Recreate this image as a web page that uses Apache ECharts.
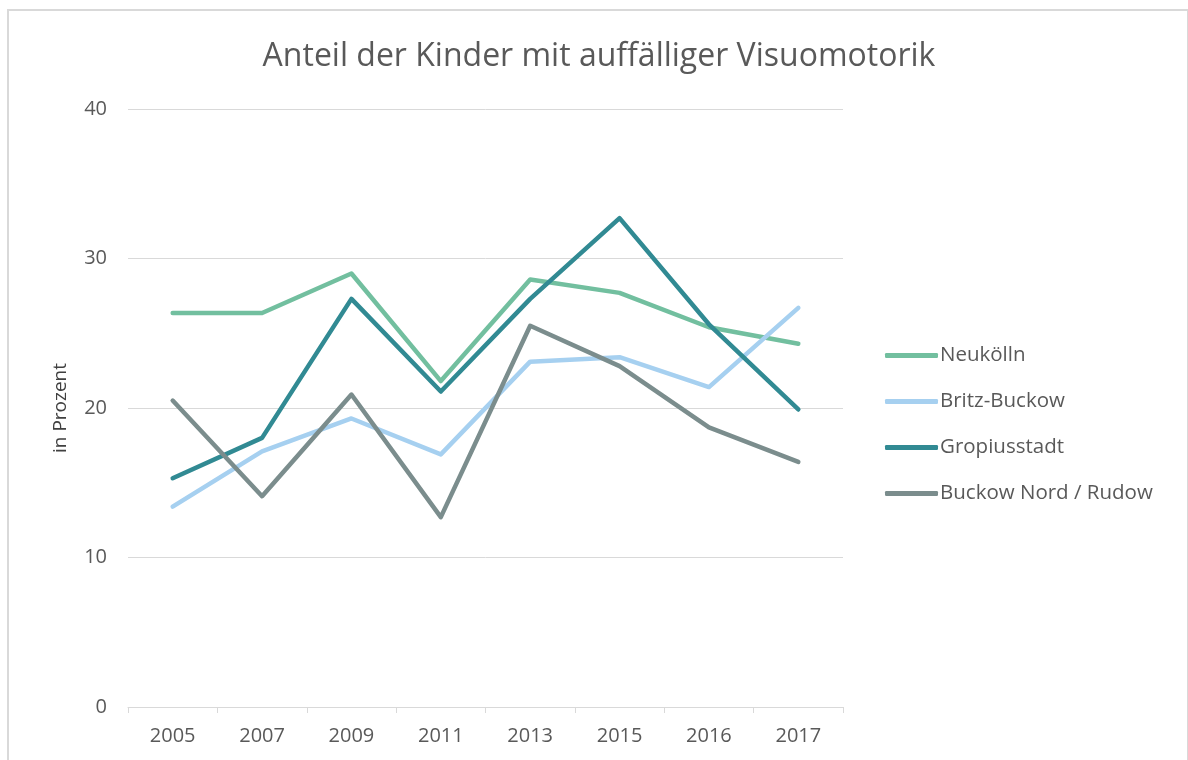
<!DOCTYPE html>
<html>
<head>
<meta charset="utf-8">
<script src="https://cdn.jsdelivr.net/npm/echarts@6/dist/echarts.min.js"></script>
<style>
  html, body { margin: 0; padding: 0; background: #fff; }
  #frame {
    position: absolute; left: 7px; top: 9px; width: 1178px; height: 760px;
    border-left: 2px solid #d9d9d9; border-top: 2px solid #d9d9d9; border-right: 2px solid #d9d9d9;
  }
  #chart { position: absolute; left: 0; top: 0; width: 1188px; height: 760px; }
</style>
</head>
<body>
<div id="frame"></div>
<div id="chart"></div>
<script>
const years = ['2005', '2007', '2009', '2011', '2013', '2015', '2016', '2017']
const neukoelln = [26.35, 26.35, 29.0, 21.8, 28.6, 27.7, 25.4, 24.3]
const britzBuckow = [13.4, 17.1, 19.3, 16.9, 23.1, 23.4, 21.4, 26.7]
const gropiusstadt = [15.3, 18.0, 27.3, 21.1, 27.3, 32.7, 25.6, 19.9]
const buckowNordRudow = [20.5, 14.1, 20.9, 12.7, 25.5, 22.8, 18.7, 16.4]

const font = 'Open Sans'
const textColor = '#595959'

const mkLine = (name, data, color) => ({
    name: name,
    type: 'line',
    data: data,
    symbol: 'none',
    lineStyle: { width: 4.5, color: color, cap: 'round', join: 'round' },
    itemStyle: { color: color }
})

const chart = echarts.init(document.getElementById('chart'))
chart.setOption({
    animation: false,
    textStyle: { fontFamily: font },
    title: {
        text: 'Anteil der Kinder mit auffälliger Visuomotorik',
        left: 594,
        textAlign: 'center',
        top: 36,
        textStyle: { fontFamily: font, fontSize: 32, fontWeight: 'normal', color: textColor }
    },
    legend: {
        orient: 'vertical',
        left: 885,
        top: 345,
        padding: 0,
        itemWidth: 53,
        itemHeight: 5,
        itemGap: 25,
        icon: 'roundRect',
        textStyle: { fontFamily: font, fontSize: 20.5, color: textColor, padding: [0, 0, 0, -3] },
        data: ['Neukölln', 'Britz-Buckow', 'Gropiusstadt', 'Buckow Nord / Rudow']
    },
    grid: { left: 128, right: 345, top: 109, bottom: 53 },
    xAxis: {
        type: 'category',
        data: years,
        axisLine: { lineStyle: { color: '#d9d9d9', width: 1 } },
        axisTick: { show: true, length: 6, lineStyle: { color: '#d9d9d9' } },
        axisLabel: { fontFamily: font, fontSize: 20, color: textColor, margin: 19 }
    },
    yAxis: {
        type: 'value',
        min: 0,
        max: 40,
        interval: 10,
        name: 'in Prozent',
        nameLocation: 'middle',
        nameGap: 58,
        nameTextStyle: { fontFamily: font, fontSize: 19, color: '#404040' },
        axisLine: { show: false },
        axisTick: { show: false },
        axisLabel: { fontFamily: font, fontSize: 20, color: textColor, margin: 21 },
        splitLine: { lineStyle: { color: '#d9d9d9', width: 1 } }
    },
    series: [
        mkLine('Neukölln', neukoelln, '#72bf9f'),
        mkLine('Britz-Buckow', britzBuckow, '#a6d0f0'),
        mkLine('Gropiusstadt', gropiusstadt, '#318a93'),
        mkLine('Buckow Nord / Rudow', buckowNordRudow, '#7b8d8d')
    ]
})
</script>
</body>
</html>
